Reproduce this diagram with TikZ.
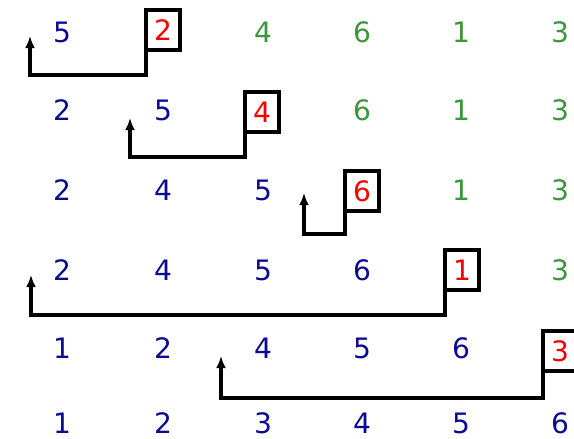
\documentclass[tikz,border=0pt]{standalone}
\usepackage{fontspec}
\setmainfont{DejaVu Sans}
\usetikzlibrary{arrows.meta}

\definecolor{sortedblue}{RGB}{10,10,150}
\definecolor{restgreen}{RGB}{60,150,60}
\definecolor{keyred}{RGB}{250,0,0}

\tikzset{
  done/.style={text=sortedblue, font=\fontsize{20}{24}\selectfont, inner sep=0.5pt},
  todo/.style={text=restgreen, font=\fontsize{20}{24}\selectfont, inner sep=0.5pt},
  key/.style={text=keyred, font=\fontsize{20}{24}\selectfont, draw=black, line width=2.2pt,
    minimum width=0.85cm, minimum height=1cm, inner sep=0pt, outer sep=0pt},
  insert/.style={line width=2.2pt, -{Latex[length=3mm,width=2.5mm]}}
}

\begin{document}
\begin{tikzpicture}[x=0.025cm, y=-0.025cm]
  \useasboundingbox (0,0) rectangle (574,439);

  % pass 1
  \node[done] (r1c1) at (62,32) {5};
  \node[key]  (r1c2) at (163,30) {2};
  \node[todo] (r1c3) at (263,32) {4};
  \node[todo] (r1c4) at (362,32) {6};
  \node[todo] (r1c5) at (461,32) {1};
  \node[todo] (r1c6) at (560,32) {3};
  \coordinate (t1) at (30,36);
  \draw[insert] (r1c2.south west) -- ++(0,25) -| (t1);

  % pass 2
  \node[done] (r2c1) at (62,110) {2};
  \node[done] (r2c2) at (163,110) {5};
  \node[key]  (r2c3) at (262,112) {4};
  \node[todo] (r2c4) at (362,110) {6};
  \node[todo] (r2c5) at (461,110) {1};
  \node[todo] (r2c6) at (560,110) {3};
  \coordinate (t2) at (130,118);
  \draw[insert] (r2c3.south west) -- ++(0,25) -| (t2);

  % pass 3
  \node[done] (r3c1) at (62,190) {2};
  \node[done] (r3c2) at (163,190) {4};
  \node[done] (r3c3) at (263,190) {5};
  \node[key]  (r3c4) at (362,191) {6};
  \node[todo] (r3c5) at (461,190) {1};
  \node[todo] (r3c6) at (560,190) {3};
  \coordinate (t3) at (304,193);
  \draw[insert] (r3c4.south west) -- ++(0,23) -| (t3);

  % pass 4
  \node[done] (r4c1) at (62,270) {2};
  \node[done] (r4c2) at (163,270) {4};
  \node[done] (r4c3) at (263,270) {5};
  \node[done] (r4c4) at (362,270) {6};
  \node[key]  (r4c5) at (462,270) {1};
  \node[todo] (r4c6) at (560,270) {3};
  \coordinate (t4) at (31,275);
  \draw[insert] (r4c5.south west) -- ++(0,25) -| (t4);

  % pass 5
  \node[done] (r5c1) at (62,348) {1};
  \node[done] (r5c2) at (163,348) {2};
  \node[done] (r5c3) at (263,348) {4};
  \node[done] (r5c4) at (362,348) {5};
  \node[done] (r5c5) at (461,348) {6};
  \node[key]  (r5c6) at (560,351) {3};
  \coordinate (t5) at (221,356);
  \draw[insert] (r5c6.south west) -- ++(0,27) -| (t5);

  % sorted
  \node[done] (r6c1) at (62,423) {1};
  \node[done] (r6c2) at (163,423) {2};
  \node[done] (r6c3) at (263,423) {3};
  \node[done] (r6c4) at (362,423) {4};
  \node[done] (r6c5) at (461,423) {5};
  \node[done] (r6c6) at (560,423) {6};
\end{tikzpicture}
\end{document}
